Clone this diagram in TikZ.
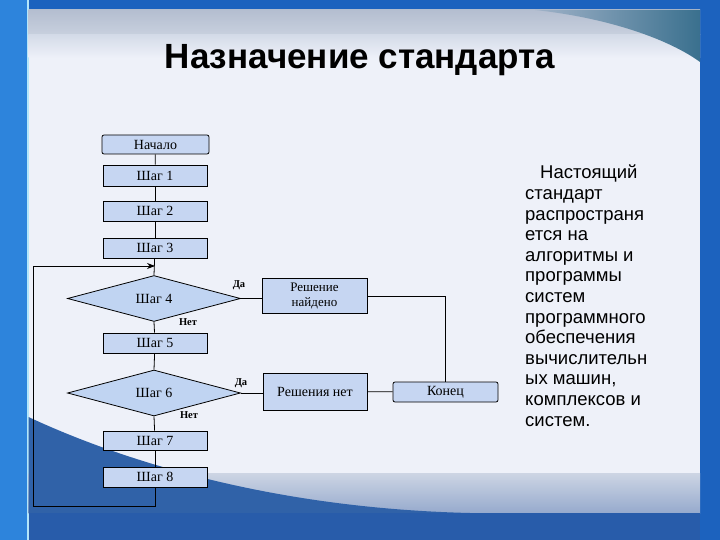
\documentclass[tikz,border=0pt]{standalone}
\usepackage{fontspec}
\setmainfont{Liberation Serif}
\newfontfamily\arial{Liberation Sans}
\usetikzlibrary{shapes.geometric,arrows.meta}
\definecolor{slideblue}{RGB}{28,98,190}
\definecolor{stripblue}{RGB}{45,132,220}
\definecolor{panel}{RGB}{238,241,249}
\definecolor{boxblue}{RGB}{198,214,242}
\definecolor{diablue}{RGB}{192,212,242}
\definecolor{wave}{RGB}{48,98,168}
\definecolor{bandtop}{RGB}{180,190,208}
\definecolor{bandbot}{RGB}{200,208,222}
\definecolor{fadetop}{RGB}{212,219,232}
\definecolor{cornerL}{RGB}{160,178,200}
\definecolor{cornerR}{RGB}{58,112,142}
\definecolor{lowtop}{RGB}{205,213,228}
\definecolor{lowbot}{RGB}{150,170,205}
\definecolor{bottomblue}{RGB}{40,92,170}
\begin{document}
\begin{tikzpicture}[x=1pt,y=-1pt,
  box/.style={draw=black, line width=0.8pt, fill=boxblue, minimum width=104pt, minimum height=20pt, inner sep=0pt, font=\fontsize{14}{16}\selectfont},
  dia/.style={draw=black, line width=0.8pt, fill=diablue, shape=diamond, minimum width=173pt, minimum height=43pt, inner sep=0pt, font=\fontsize{14}{16}\selectfont},
  lbl/.style={font=\fontsize{10.5}{12}\selectfont\bfseries, inner sep=0pt},
  conn/.style={line width=0.8pt, draw=black}]
\useasboundingbox (0,0) rectangle (720,540);
% background
\fill[slideblue] (0,0) rectangle (720,540);
\fill[stripblue] (0,0) rectangle (27,540);
\fill[cyan!30!white] (26.5,0) rectangle (28.5,540);
\fill[panel] (28.5,10) rectangle (700,513);
\shade[top color=bandtop, bottom color=bandbot] (28.5,10) rectangle (700,35);
\shade[top color=fadetop, bottom color=panel] (28.5,35) rectangle (700,58);
\shade[left color=cornerL, right color=cornerR] (535,10) .. controls (610,18) and (670,40) .. (700,62) -- (700,10) -- cycle;
\shade[top color=lowtop, bottom color=lowbot] (28.5,473) rectangle (700,513);
\fill[wave] (28.5,417) .. controls (110,455) and (260,508) .. (470,513) -- (28.5,513) -- cycle;
\fill[bottomblue] (28.5,513) rectangle (700,540);
% title
\node[anchor=base, inner sep=0pt, font=\arial\bfseries\fontsize{35}{40}\selectfont] (title) at (360,69) {Назначение стандарта};
% flowchart
\node[box, rounded corners=2pt, minimum width=107pt, minimum height=19pt] (start) at (155.5,144.5) {Начало};
\node[box, minimum height=21pt] (s1) at (155,175.5) {Шаг 1};
\node[box] (s2) at (155,211) {Шаг 2};
\node[box] (s3) at (155,248) {Шаг 3};
\node[dia] (s4) at (154,298.5) {Шаг 4};
\node[box] (s5) at (155,343) {Шаг 5};
\node[dia, minimum height=42pt] (s6) at (154,393) {Шаг 6};
\node[box, minimum height=19pt] (s7) at (155,440.5) {Шаг 7};
\node[box] (s8) at (155,477) {Шаг 8};
\node[box, minimum width=105pt, minimum height=35pt, align=center, font=\fontsize{13}{15.5}\selectfont] (found) at (314.5,296) {Решение\\найдено};
\node[box, minimum height=37pt] (none) at (315,391.5) {Решения нет};
\node[box, rounded corners=2pt, minimum width=105pt] (end) at (445.5,392) {Конец};
\node[lbl] (da1) at (239,285) {Да};
\node[lbl] (net1) at (188,322) {Нет};
\node[lbl] (da2) at (241,383) {Да};
\node[lbl] (net2) at (189,415) {Нет};
\coordinate (lb) at (33,506);
\coordinate (lt) at (33,266);
\coordinate (merge) at (155,266);
\draw[conn] (start) -- (s1);
\draw[conn] (s1) -- (s2);
\draw[conn] (s2) -- (s3);
\draw[conn] (s3) -- (s4.north);
\draw[conn] (s4.south) -- (s5);
\draw[conn] (s5) -- (s6.north);
\draw[conn] (s6.south) -- (s7);
\draw[conn] (s7) -- (s8);
\draw[conn] (s8.south) |- (lb) -- (lt);
\draw[conn, -{Stealth[length=8pt,width=6pt]}] (lt) -- (merge);
\draw[conn] (s4.east) -- (s4.east -| found.west);
\draw[conn] (s6.east) -- (s6.east -| none.west);
\draw[conn] (none) -- (end);
\draw[conn] (found.east) -| (end.north);
% text
\node[anchor=north west, inner sep=0pt, align=left, font=\arial\fontsize{18.5}{20.6}\selectfont] (body) at (525,165) {\hspace*{15pt}Настоящий\\стандарт\\распространя\\ется на\\алгоритмы и\\программы\\систем\\программного\\обеспечения\\вычислительн\\ых машин,\\комплексов и\\систем.};
\end{tikzpicture}
\end{document}
